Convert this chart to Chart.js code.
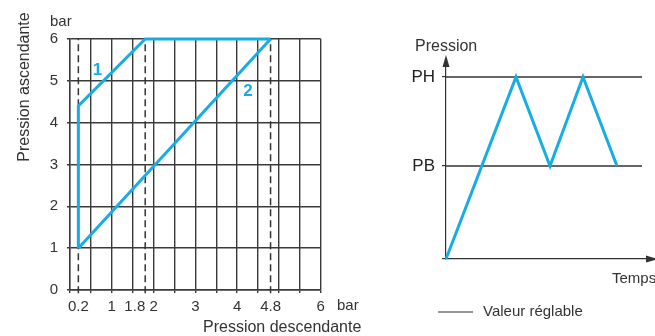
<!DOCTYPE html>
<html>
<head>
<meta charset="utf-8">
<script src="https://cdn.jsdelivr.net/npm/chart.js@4/dist/chart.umd.min.js"></script>
<style>
  html, body { margin: 0; padding: 0; background: #fff; }
  #wrap { position: relative; width: 655px; height: 336px; overflow: hidden; }
  #leftChart { position: absolute; left: 0; top: 0; }
  #rightChart { position: absolute; left: 380px; top: 0; }
</style>
</head>
<body>
<div id="wrap">
  <canvas id="leftChart" width="380" height="336"></canvas>
  <canvas id="rightChart" width="275" height="336"></canvas>
</div>
<script>
// left chart: pression ascendante vs descendante
const xLabelValues = [0.2, 1, 1.8, 2, 3, 4, 4.8, 6];
const xGridValues = [0, 0.5, 1, 1.5, 2, 2.5, 3, 3.5, 4, 4.5, 5, 5.5, 6];
const yGridValues = [0, 0.5, 1, 1.5, 2, 2.5, 3, 3.5, 4, 4.5, 5, 5.5, 6];
const curve1X = [0.2, 0.2, 1.8, 4.8];
const curve1Y = [1, 4.4, 6, 6];
const curve2X = [0.2, 4.8];
const curve2Y = [1, 6];
const dashedX = [0.2, 1.8, 4.8];
const dashedBottom = -0.08;
const dashedTop = 6;
const curveNames = ['1', '2'];
const curveLabelX = [0.66, 4.26];
const curveLabelY = [5.26, 4.74];

// right chart: pression vs temps
const timeValues = [0, 7, 10.4, 13.7, 17.1];
const pressureValues = [0, 18.2, 9.3, 18.2, 9.3];
const PH = 18.2;
const PB = 9.3;
const levelEnd = 19.6;

const BLUE = '#16ade6';
const INK = '#333333';
const GRID = '#3a3a3a';
const FONT = "'Liberation Sans', Arial, Helvetica, sans-serif";

function toPoints(xs, ys) {
  return xs.map((x, i) => ({ x, y: ys[i] }));
}

const dashedSets = dashedX.map((x) => ({
  data: toPoints([x, x], [dashedBottom, dashedTop]),
  borderColor: INK,
  borderWidth: 1.5,
  borderDash: [7, 4],
  pointRadius: 0,
  showLine: true,
  clip: false,
  order: 5,
}));

const leftText = {
  id: 'leftText',
  afterDraw(chart) {
    const ctx = chart.ctx;
    const xs = chart.scales.x;
    const ys = chart.scales.y;
    ctx.save();
    ctx.fillStyle = INK;
    ctx.textBaseline = 'middle';
    ctx.font = `15px ${FONT}`;
    ctx.textAlign = 'left';
    ctx.fillText('bar', 50, 22);
    ctx.fillText('bar', 337, 306);
    ctx.font = `16px ${FONT}`;
    ctx.fillText('Pression descendante', 203, 328);
    ctx.save();
    ctx.translate(25, 87);
    ctx.rotate(-Math.PI / 2);
    ctx.textAlign = 'center';
    ctx.fillText('Pression ascendante', 0, 0);
    ctx.restore();
    ctx.fillStyle = BLUE;
    ctx.font = `bold 17px ${FONT}`;
    ctx.textAlign = 'center';
    curveNames.forEach((name, i) => {
      ctx.fillText(name, xs.getPixelForValue(curveLabelX[i]), ys.getPixelForValue(curveLabelY[i]));
    });
    ctx.restore();
  },
};

new Chart(document.getElementById('leftChart'), {
  type: 'scatter',
  data: {
    datasets: [
      {
        data: toPoints(curve1X, curve1Y),
        borderColor: BLUE,
        borderWidth: 3,
        borderJoinStyle: 'miter',
        pointRadius: 0,
        showLine: true,
        clip: false,
        order: 1,
      },
      {
        data: toPoints(curve2X, curve2Y),
        borderColor: BLUE,
        borderWidth: 3,
        pointRadius: 0,
        showLine: true,
        clip: false,
        order: 2,
      },
      ...dashedSets,
    ],
  },
  options: {
    responsive: false,
    animation: false,
    layout: { padding: { top: 39, right: 59.3, bottom: 0, left: 0 } },
    plugins: { legend: { display: false }, tooltip: { enabled: false } },
    scales: {
      x: {
        type: 'linear',
        min: 0,
        max: 6,
        afterBuildTicks: (scale) => {
          const all = [...new Set([...xGridValues, ...xLabelValues])].sort((a, b) => a - b);
          scale.ticks = all.map((value) => ({ value }));
        },
        afterFit: (scale) => { scale.height = 46; },
        grid: {
          color: (c) => (dashedX.includes(c.tick && c.tick.value) ? 'rgba(0,0,0,0)' : GRID),
          lineWidth: 1.4,
          tickLength: 3,
        },
        border: { color: GRID, width: 1.4 },
        ticks: {
          autoSkip: false,
          maxRotation: 0,
          minRotation: 0,
          padding: 5,
          color: INK,
          font: { family: FONT, size: 15 },
          callback: (value) => {
            if (!xLabelValues.includes(value)) return '';
            if (value === 1.8) return '1.8' + '\u00a0'.repeat(5);
            return String(value);
          },
        },
      },
      y: {
        type: 'linear',
        min: 0,
        max: 6,
        afterBuildTicks: (scale) => {
          scale.ticks = yGridValues.map((value) => ({ value }));
        },
        afterFit: (scale) => { scale.width = 70; },
        grid: { color: GRID, lineWidth: 1.4, tickLength: 3 },
        border: { color: GRID, width: 1.4 },
        ticks: {
          padding: 9,
          color: INK,
          font: { family: FONT, size: 15 },
          callback: (value) => (Number.isInteger(value) ? String(value) : ''),
        },
      },
    },
  },
  plugins: [leftText],
});

const rightText = {
  id: 'rightText',
  afterDraw(chart) {
    const ctx = chart.ctx;
    const area = chart.chartArea;
    ctx.save();
    ctx.fillStyle = INK;
    // arrow heads on the axes
    ctx.beginPath();
    ctx.moveTo(area.left, area.top - 5);
    ctx.lineTo(area.left - 3.5, area.top + 7);
    ctx.lineTo(area.left + 3.5, area.top + 7);
    ctx.closePath();
    ctx.fill();
    ctx.beginPath();
    ctx.moveTo(area.right + 3, area.bottom);
    ctx.lineTo(area.right - 9, area.bottom - 3.5);
    ctx.lineTo(area.right - 9, area.bottom + 3.5);
    ctx.closePath();
    ctx.fill();

    ctx.textBaseline = 'middle';
    ctx.textAlign = 'left';
    ctx.font = `16px ${FONT}`;
    ctx.fillText('Pression', 35, 47);
    ctx.font = `15px ${FONT}`;
    ctx.fillText('Temps', 232, 279);
    ctx.fillText('Valeur réglable', 103, 312);
    ctx.strokeStyle = INK;
    ctx.lineWidth = 1.2;
    ctx.beginPath();
    ctx.moveTo(58, 312);
    ctx.lineTo(93, 312);
    ctx.stroke();
    ctx.restore();
  },
};

new Chart(document.getElementById('rightChart'), {
  type: 'scatter',
  data: {
    datasets: [
      {
        data: toPoints(timeValues, pressureValues),
        borderColor: BLUE,
        borderWidth: 3,
        borderJoinStyle: 'miter',
        pointRadius: 0,
        showLine: true,
        clip: false,
        order: 1,
      },
      {
        data: toPoints([0, levelEnd], [PH, PH]),
        borderColor: INK,
        borderWidth: 1.3,
        pointRadius: 0,
        showLine: true,
        clip: false,
        order: 2,
      },
      {
        data: toPoints([0, levelEnd], [PB, PB]),
        borderColor: INK,
        borderWidth: 1.3,
        pointRadius: 0,
        showLine: true,
        clip: false,
        order: 3,
      },
    ],
  },
  options: {
    responsive: false,
    animation: false,
    layout: { padding: { top: 60, right: 0, bottom: 77, left: 0 } },
    plugins: { legend: { display: false }, tooltip: { enabled: false } },
    scales: {
      x: {
        type: 'linear',
        min: 0,
        max: 20.9,
        afterFit: (scale) => { scale.height = 0; },
        grid: { display: false, drawTicks: false },
        border: { color: INK, width: 1.2 },
        ticks: { display: false },
      },
      y: {
        type: 'linear',
        min: 0,
        max: 19.9,
        afterBuildTicks: (scale) => {
          scale.ticks = [0, PB, PH].map((value) => ({ value }));
        },
        afterFit: (scale) => { scale.width = 66; },
        grid: { drawOnChartArea: false, color: INK, lineWidth: 1.2, tickLength: 4 },
        border: { color: INK, width: 1.2 },
        ticks: {
          padding: 7,
          color: '#222',
          font: { family: FONT, size: 17 },
          callback: (value) => (value === PH ? 'PH' : value === PB ? 'PB' : ''),
        },
      },
    },
  },
  plugins: [rightText],
});
</script>
</body>
</html>
